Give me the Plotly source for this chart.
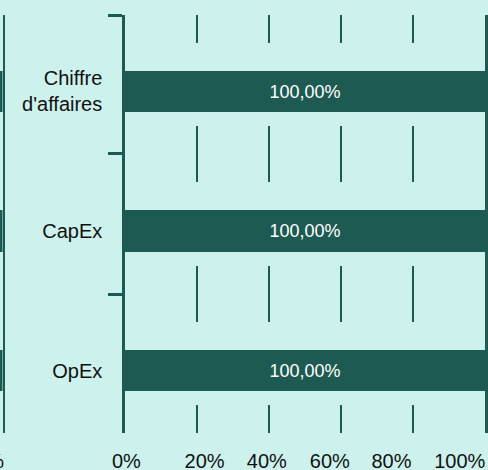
import plotly.graph_objects as go

# ---- data ----
categories = ["Chiffre<br>d'affaires", "CapEx", "OpEx"]
values = [100, 100, 100]
bar_text = ["100,00%", "100,00%", "100,00%"]
tick_vals = [0, 20, 40, 60, 80, 100]
tick_labels = ["0%", "20%", "40%", "60%", "80%", "100%"]
# where the reference prints the tick labels (slightly off the ticks)
label_pos = [0.4, 22.1, 39.4, 56.9, 74.0, 93.0]

BG = "#cdf2ed"
DARK = "#1d5b52"
FONT = "Arial, Liberation Sans, sans-serif"

W, H = 488, 470
row_dom = [[0.6675, 1.0], [0.3325, 0.6675], [0.0, 0.3325]]
col1_dom = [0.0, 2.5 / W]
col2_dom = [125 / W, 485 / W]

fig = go.Figure()
layout = {}
n = 0
for r, (cat, val, txt) in enumerate(zip(categories, values, bar_text)):
    for c in range(2):
        n += 1
        xa = "x" if n == 1 else f"x{n}"
        ya = "y" if n == 1 else f"y{n}"
        xk = "xaxis" if n == 1 else f"xaxis{n}"
        yk = "yaxis" if n == 1 else f"yaxis{n}"
        fig.add_trace(go.Bar(
            x=[val], y=[cat], orientation="h", xaxis=xa, yaxis=ya,
            marker=dict(color=DARK, line=dict(width=0)),
            width=0.30, offset=-0.20,
            text=[txt] if c == 1 else None,
            textposition="inside", insidetextanchor="middle",
            textfont=dict(color="white", size=18, family=FONT),
            showlegend=False, hoverinfo="skip",
        ))
        is_bottom = r == len(categories) - 1
        if c == 0:
            layout[xk] = dict(
                domain=col1_dom, anchor=ya, range=[0, 100],
                tickvals=[100], ticktext=["100%"],
                showticklabels=is_bottom, ticks="inside", ticklen=28,
                tickwidth=2, tickcolor=DARK, mirror="ticks",
                showline=False, showgrid=False, zeroline=False,
                ticklabelshift=-24, ticklabelstandoff=14,
                ticklabeloverflow="allow", automargin=False,
                tickfont=dict(size=20, family=FONT, color="#111"),
            )
            layout[yk] = dict(
                domain=row_dom[r], anchor=xa, type="category",
                categoryarray=[cat], range=[-0.5, 0.5],
                showticklabels=False, ticks="", side="right",
                showline=True, linecolor=DARK, linewidth=2,
                showgrid=False, zeroline=False, automargin=False,
            )
        else:
            layout[xk] = dict(
                domain=col2_dom, anchor=ya, range=[0, 100],
                tickvals=tick_vals, showticklabels=False,
                ticks="inside", ticklen=28, tickwidth=2, tickcolor=DARK,
                mirror="ticks", showline=False, showgrid=False, zeroline=False,
                automargin=False,
            )
            layout[yk] = dict(
                domain=row_dom[r], anchor=xa, type="category",
                categoryarray=[cat], range=[-0.5, 0.5],
                tickson="boundaries", ticks="outside", ticklen=14,
                tickwidth=2.5, tickcolor=DARK,
                showline=True, mirror=True, linecolor=DARK, linewidth=2.5,
                showgrid=False, zeroline=False, automargin=False,
                ticklabelstandoff=16, ticklabelshift=7,
                tickfont=dict(size=20, family=FONT, color="#111"),
            )

# label-only axis under the bottom right panel (empty trace just registers it)
fig.add_trace(go.Scatter(x=[], y=[], xaxis="x7", yaxis="y6",
                         showlegend=False, hoverinfo="skip"))
layout["xaxis7"] = dict(
    overlaying="x6", anchor="y6", side="bottom", range=[0, 100],
    tickvals=label_pos, ticktext=tick_labels, ticks="",
    showline=False, showgrid=False, zeroline=False,
    ticklabelstandoff=14, ticklabeloverflow="allow", automargin=False,
    tickfont=dict(size=20, family=FONT, color="#111"),
)

fig.update_layout(
    width=W, height=H,
    margin=dict(l=0, r=0, t=15, b=37, autoexpand=False),
    paper_bgcolor=BG, plot_bgcolor=BG,
    bargap=0, **layout,
)
fig.write_html(
    "out.html",
    config={"displayModeBar": False},
    post_script="document.body.style.margin='0';",
)
